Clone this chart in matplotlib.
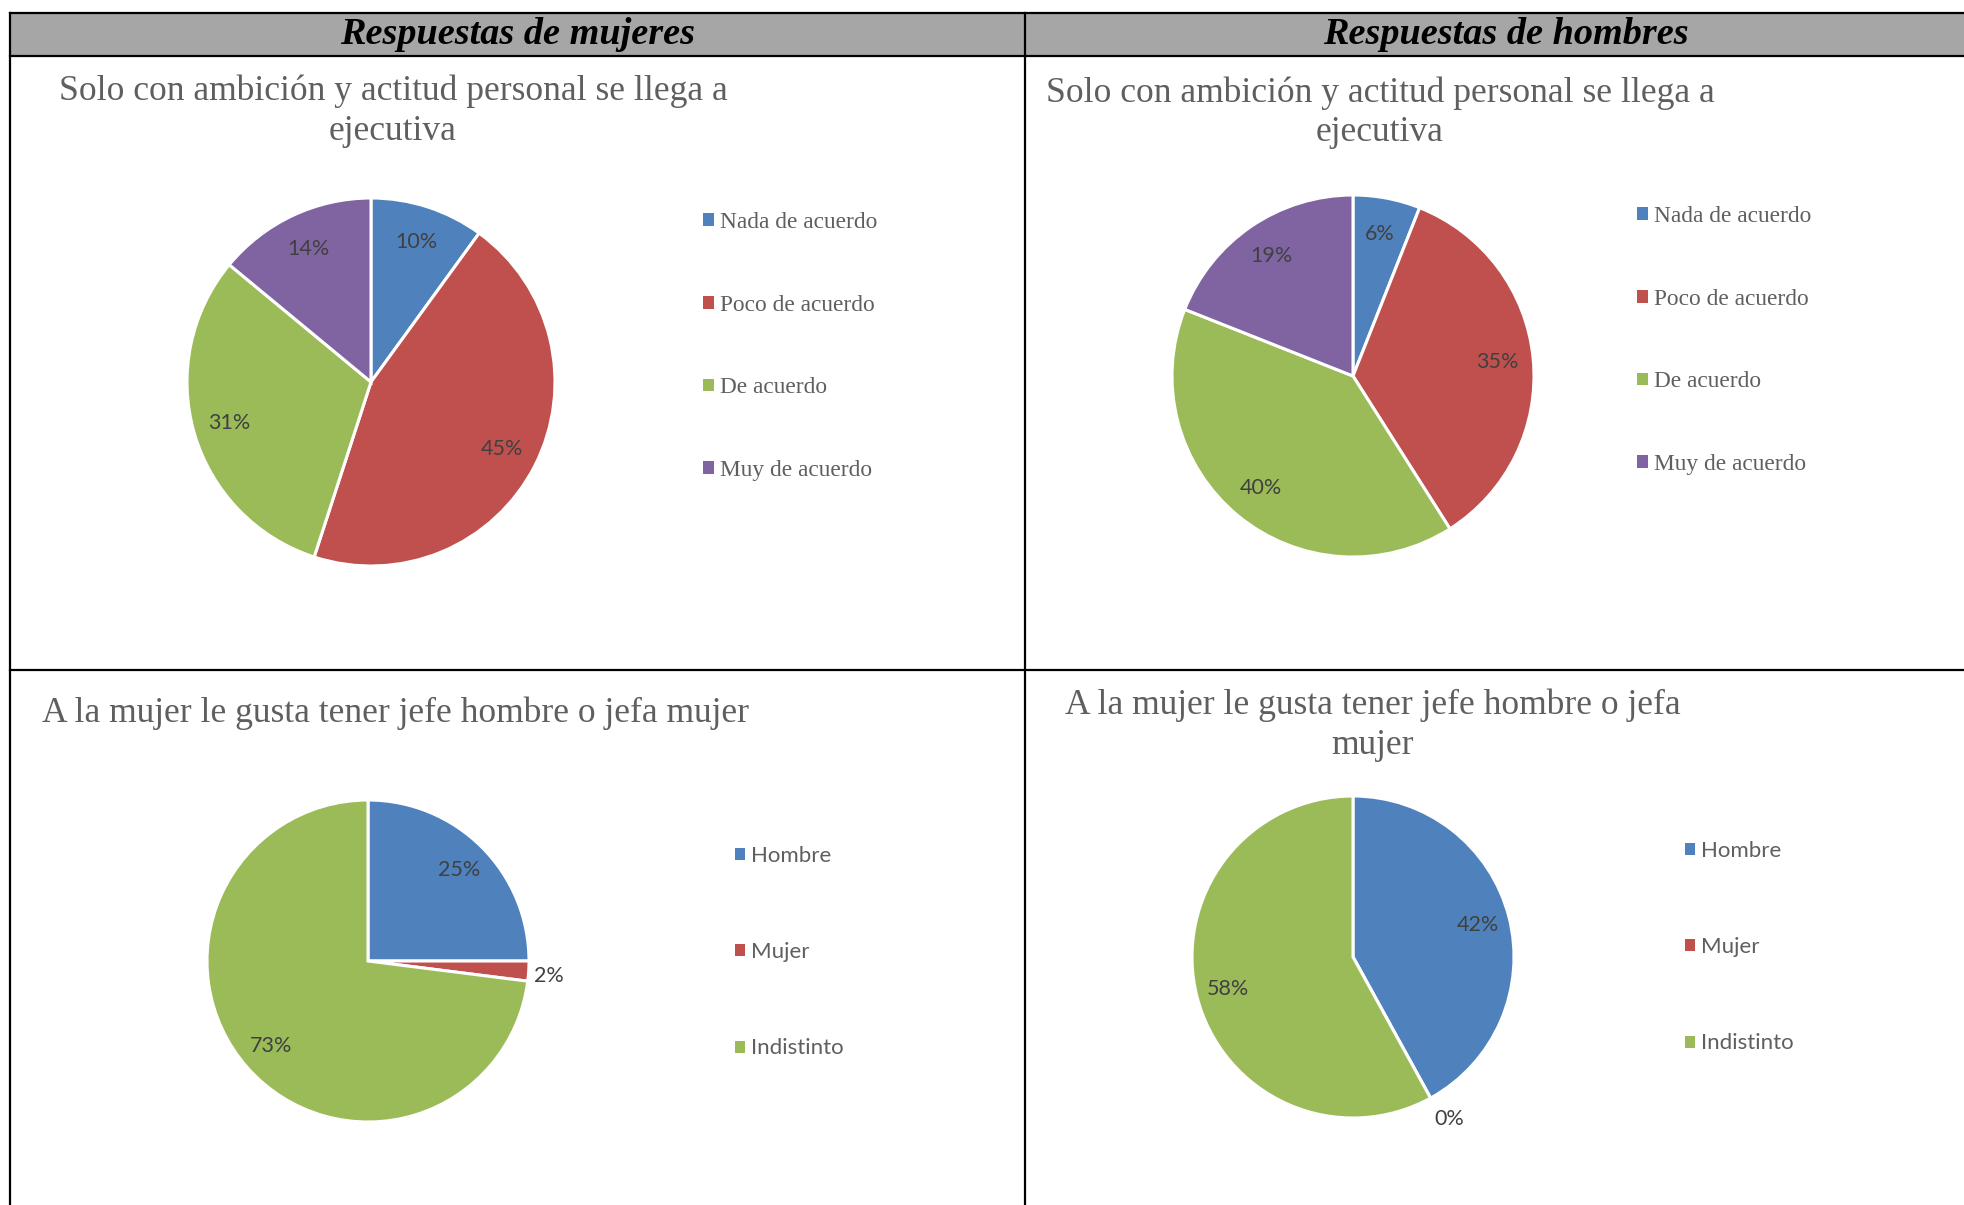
import numpy as np
import matplotlib.pyplot as plt
from matplotlib.patches import Rectangle, Patch

# ------------------------------------------------------------------
# Datos
# ------------------------------------------------------------------
encabezados = ["Respuestas de mujeres", "Respuestas de hombres"]

titulo_ambicion_m = "Solo con ambición y actitud personal se llega a\nejecutiva"
titulo_ambicion_h = "Solo con ambición y actitud personal se llega a\nejecutiva"
titulo_jefe_m = "A la mujer le gusta tener jefe hombre o jefa mujer"
titulo_jefe_h = "A la mujer le gusta tener jefe hombre o jefa\nmujer"

cat_acuerdo = ["Nada de acuerdo", "Poco de acuerdo", "De acuerdo", "Muy de acuerdo"]
ambicion_mujeres = [10, 45, 31, 14]
ambicion_hombres = [6, 35, 40, 19]

cat_jefe = ["Hombre", "Mujer", "Indistinto"]
jefe_mujeres = [25, 2, 73]
jefe_hombres = [42, 0, 58]

colores = ["#4F81BD", "#C0504D", "#9BBB59", "#8064A2"]

# ------------------------------------------------------------------
# Estilo
# ------------------------------------------------------------------
W, H = 1964, 1205
SERIF = "Liberation Serif"
SANS = "Lato"
GRIS_TXT = "#5f5f5f"
GRIS_PCT = "#404040"

fig = plt.figure(figsize=(W / 100, H / 100), dpi=100, facecolor="white")

# capa de la tabla (coordenadas en pixeles)
base = fig.add_axes([0, 0, 1, 1])
base.set_xlim(0, W)
base.set_ylim(H, 0)
base.axis("off")

base.add_patch(Rectangle((10, 13), W - 10, 43, facecolor="#A6A6A6", edgecolor="none"))
lw_tabla = 1.6
base.plot([10, W], [13, 13], color="black", lw=lw_tabla)
base.plot([10, W], [56, 56], color="black", lw=lw_tabla)
base.plot([10, W], [670, 670], color="black", lw=lw_tabla)
base.plot([10, 10], [13, H], color="black", lw=lw_tabla)
base.plot([1025, 1025], [13, H], color="black", lw=lw_tabla)

for x, txt in zip([518, 1506], encabezados):
    base.text(x, 35, txt, ha="center", va="center", fontsize=27.5,
              family=SERIF, fontweight="bold", style="italic", color="black")


def panel(cx, cy, r, valores, categorias, titulo, tpos, leg_pos, leg_font,
          leg_space, fuera=1.15, giro=0.0):
    """Dibuja un pastel estilo Excel con su título y leyenda."""
    ax = fig.add_axes([(cx - r) / W, 1 - (cy + r) / H, 2 * r / W, 2 * r / H])
    wedges, _, autotexts = ax.pie(
        valores, colors=colores[:len(valores)], startangle=90, counterclock=False,
        autopct="%.0f%%", pctdistance=0.8, radius=1,
        wedgeprops=dict(edgecolor="white", linewidth=2.2),
        textprops=dict(fontsize=15.5, family=SANS, color=GRIS_PCT),
    )
    # porcentajes pequeños fuera del pastel
    for w, t, v in zip(wedges, autotexts, valores):
        if v < 5:
            ang = np.deg2rad((w.theta1 + w.theta2) / 2 + giro)
            t.set_position((fuera * np.cos(ang), fuera * np.sin(ang)))
    ax.set_xlim(-1, 1)
    ax.set_ylim(-1, 1)
    ax.set_aspect("equal")
    ax.axis("off")

    base.text(tpos[0], tpos[1], titulo, ha="center", va="top", fontsize=25.6,
              family=SERIF, color=GRIS_TXT, linespacing=1.25)

    handles = [Patch(facecolor=c, edgecolor="none") for c in colores[:len(categorias)]]
    fam = SERIF if leg_font == "serif" else SANS
    size = 16.8 if leg_font == "serif" else 16
    fig.legend(handles, categorias, loc="upper left",
               bbox_to_anchor=(leg_pos[0] / W, 1 - leg_pos[1] / H),
               frameon=False, borderpad=0, borderaxespad=0,
               handlelength=0.45, handleheight=0.45, handletextpad=0.28,
               labelspacing=leg_space,
               prop=dict(family=fam, size=size), labelcolor=GRIS_TXT)


panel(371, 382, 184, ambicion_mujeres, cat_acuerdo, titulo_ambicion_m,
      (393, 75), (703, 212), "serif", 2.64)
panel(1353, 376, 181, ambicion_hombres, cat_acuerdo, titulo_ambicion_h,
      (1380, 76), (1637, 206), "serif", 2.64)
panel(368, 961, 161, jefe_mujeres, cat_jefe, titulo_jefe_m,
      (396, 697), (735, 846), "sans", 3.43, fuera=1.13, giro=-1.0)
panel(1353, 957, 161, jefe_hombres, cat_jefe, titulo_jefe_h,
      (1373, 689), (1685, 841), "sans", 3.43, fuera=1.17, giro=2.0)

fig.savefig("out.png", dpi=100, facecolor="white")
